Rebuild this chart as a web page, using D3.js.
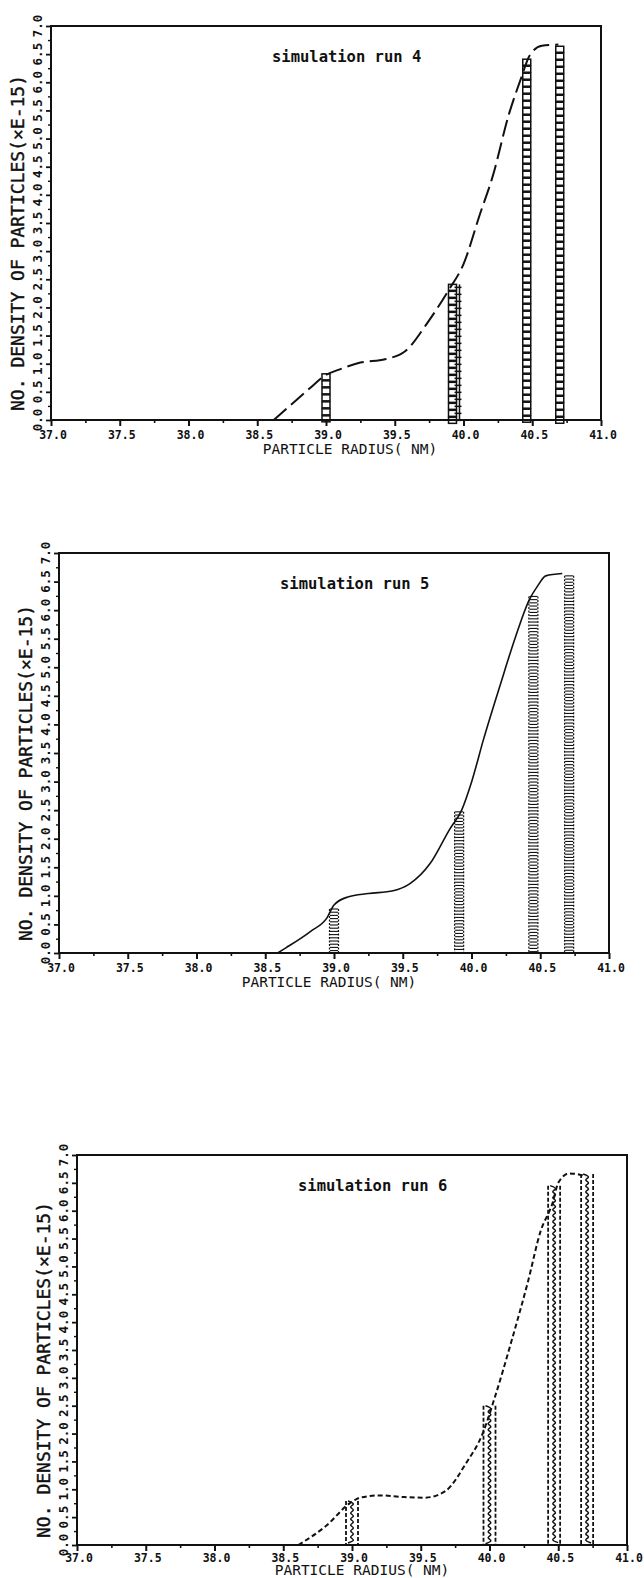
<!DOCTYPE html>
<html>
<head>
<meta charset="utf-8">
<script src="https://cdn.jsdelivr.net/npm/d3@7"></script>
<style>
  html, body { margin: 0; padding: 0; background: #fff; }
  svg { display: block; }
  .tick-label { font-family: "DejaVu Sans Mono", monospace; font-weight: bold; fill: #111; }
  .axis-title { font-family: "DejaVu Sans Mono", monospace; fill: #111; }
</style>
</head>
<body>
<script>
// Axis ticks shared by all three runs
const radiusTicks = [37.0, 37.5, 38.0, 38.5, 39.0, 39.5, 40.0, 40.5, 41.0];
const densityTicks = [0.0, 0.5, 1.0, 1.5, 2.0, 2.5, 3.0, 3.5, 4.0, 4.5, 5.0, 5.5, 6.0, 6.5, 7.0];
const runTitles = ["simulation run 4", "simulation run 5", "simulation run 6"];
const xTitle = "PARTICLE RADIUS( NM)";
const yTitle = "NO. DENSITY OF PARTICLES(\u00d7E-15)";

// Run 4: fitted distribution and size-class bars
const run4Radius  = [38.62, 38.75, 38.88, 39.0, 39.1, 39.25, 39.43, 39.58, 39.73, 39.89, 40.0, 40.12, 40.21, 40.33, 40.42, 40.48, 40.57, 40.69];
const run4Density = [0.0, 0.28, 0.56, 0.80, 0.90, 1.02, 1.08, 1.23, 1.70, 2.30, 2.77, 3.66, 4.31, 5.43, 6.08, 6.47, 6.65, 6.67];
const run4BarRadius  = [39.0, 39.92, 40.46, 40.70];
const run4BarDensity = [0.82, 2.41, 6.41, 6.64];

// Run 5
const run5Radius  = [38.59, 38.65, 38.83, 38.95, 39.0, 39.1, 39.25, 39.43, 39.55, 39.70, 39.84, 39.93, 40.0, 40.09, 40.21, 40.32, 40.42, 40.48, 40.54, 40.66];
const run5Density = [0.0, 0.09, 0.38, 0.62, 0.84, 0.98, 1.04, 1.09, 1.21, 1.57, 2.16, 2.51, 2.99, 3.76, 4.70, 5.53, 6.18, 6.42, 6.60, 6.64];
const run5BarRadius  = [39.0, 39.91, 40.45, 40.71];
const run5BarDensity = [0.77, 2.47, 6.24, 6.60];

// Run 6
const run6Radius  = [38.61, 38.81, 38.99, 39.06, 39.2, 39.38, 39.53, 39.68, 39.83, 39.95, 40.04, 40.16, 40.28, 40.37, 40.46, 40.50, 40.58, 40.65, 40.70];
const run6Density = [0.0, 0.34, 0.76, 0.85, 0.89, 0.86, 0.85, 0.97, 1.47, 2.00, 2.66, 3.66, 4.73, 5.62, 6.15, 6.50, 6.67, 6.65, 6.62];
const run6BarRadius  = [39.0, 40.0, 40.47, 40.71];
const run6BarDensity = [0.79, 2.50, 6.45, 6.66];

const W = 644, H = 1578;
const svg = d3.select("body").append("svg").attr("width", W).attr("height", H);

// Frame of each panel on the page
const panels = [
  { left: 51, right: 601, top: 26,   bottom: 420,  labelGap: 19, titleGap: 34, xTitleShift: 24, radius: run4Radius, density: run4Density, barR: run4BarRadius, barN: run4BarDensity, title: runTitles[0], line: "dash",  bar: "box"  },
  { left: 59, right: 609, top: 553,  bottom: 953,  labelGap: 19, titleGap: 34, xTitleShift: -5, radius: run5Radius, density: run5Density, barR: run5BarRadius, barN: run5BarDensity, title: runTitles[1], line: "solid", bar: "comb" },
  { left: 77, right: 627, top: 1155, bottom: 1545, labelGap: 17, titleGap: 30, xTitleShift: 10, radius: run6Radius, density: run6Density, barR: run6BarRadius, barN: run6BarDensity, title: runTitles[2], line: "short", bar: "wave" }
];

const ink = "#111";
const fmt = d3.format(".1f");

panels.forEach(p => {
  const x = d3.scaleLinear().domain([37, 41]).range([p.left, p.right]);
  const y = d3.scaleLinear().domain([0, 7]).range([p.bottom, p.top]);
  const g = svg.append("g");

  // frame
  g.append("rect")
    .attr("x", p.left).attr("y", p.top)
    .attr("width", p.right - p.left).attr("height", p.bottom - p.top)
    .attr("fill", "none").attr("stroke", ink).attr("stroke-width", 2);

  // x axis: major ticks below, minor ticks at quarter steps
  const xAxis = d3.axisBottom(x).tickValues(radiusTicks).tickSize(6).tickFormat("");
  const gx = g.append("g").attr("transform", `translate(0,${p.bottom})`).call(xAxis);
  gx.select(".domain").remove();
  gx.selectAll("line").attr("stroke", ink).attr("stroke-width", 2);
  const xMinor = d3.axisBottom(x).tickValues(d3.range(37.25, 41, 0.5)).tickSize(3).tickFormat("");
  const gxm = g.append("g").attr("transform", `translate(0,${p.bottom})`).call(xMinor);
  gxm.select(".domain").remove();
  gxm.selectAll("line").attr("stroke", ink).attr("stroke-width", 1.6);
  g.selectAll(".xlab").data(radiusTicks).join("text")
    .attr("class", "tick-label")
    .attr("x", d => x(d) + 2).attr("y", p.bottom + p.labelGap)
    .attr("text-anchor", "middle").attr("font-size", 11.5)
    .text(d => fmt(d));

  // y axis: major ticks outward, minor ticks between
  const yAxis = d3.axisLeft(y).tickValues(densityTicks).tickSize(5).tickFormat("");
  const gy = g.append("g").attr("transform", `translate(${p.left},0)`).call(yAxis);
  gy.select(".domain").remove();
  gy.selectAll("line").attr("stroke", ink).attr("stroke-width", 1.8);
  const yMinor = d3.axisLeft(y).tickValues(d3.range(0.25, 7, 0.5)).tickSize(3).tickFormat("");
  const gym = g.append("g").attr("transform", `translate(${p.left},0)`).call(yMinor);
  gym.select(".domain").remove();
  gym.selectAll("line").attr("stroke", ink).attr("stroke-width", 1.4);
  g.selectAll(".ylab").data(densityTicks).join("text")
    .attr("class", "tick-label")
    .attr("transform", d => `translate(${p.left - 9},${y(d)}) rotate(-90)`)
    .attr("text-anchor", "middle").attr("font-size", 12.5)
    .text(d => fmt(d));

  // axis titles
  g.append("text").attr("class", "axis-title")
    .attr("x", (p.left + p.right) / 2 + p.xTitleShift).attr("y", p.bottom + p.titleGap)
    .attr("text-anchor", "middle").attr("font-size", 14.5)
    .text(xTitle);
  g.append("text").attr("class", "axis-title")
    .attr("transform", `translate(${p.left - 27},${(p.top + p.bottom) / 2 + 20}) rotate(-90)`)
    .attr("text-anchor", "middle").attr("font-size", 18)
    .attr("stroke", ink).attr("stroke-width", 0.4)
    .text(yTitle);

  // run title
  g.append("text").attr("class", "tick-label")
    .attr("x", x(39.15)).attr("y", p.top + 36)
    .attr("text-anchor", "middle").attr("font-size", 15.5)
    .text(p.title);

  // size-class bars drawn as stacked plotter symbols
  const bars = p.barR.map((r, i) => ({ r, n: p.barN[i], i }));
  bars.forEach(b => {
    const cx = x(b.r), yTop = y(b.n), yBot = y(0);
    const bg = g.append("g");
    if (p.bar === "box") {
      const step = 7;
      const rows = d3.range(yTop, yBot - 2, step);
      bg.selectAll("rect").data(rows).join("rect")
        .attr("x", cx - 4).attr("y", d => d).attr("width", 8).attr("height", step - 1)
        .attr("fill", "none").attr("stroke", ink).attr("stroke-width", 1.5);
      if (b.i === 1) {
        // crossed symbols overprinted on the right edge of this class
        bg.selectAll("line.cross").data(rows).join("line")
          .attr("x1", cx + 2).attr("x2", cx + 9).attr("y1", d => d + 3).attr("y2", d => d + 3)
          .attr("stroke", ink).attr("stroke-width", 1.5);
        bg.append("line").attr("x1", cx + 7).attr("x2", cx + 7).attr("y1", yTop).attr("y2", yBot)
          .attr("stroke", ink).attr("stroke-width", 1.5);
      }
    } else if (p.bar === "comb") {
      const step = 3.2;
      const rows = d3.range(yTop, yBot, step);
      bg.selectAll("line").data(rows).join("line")
        .attr("x1", cx - 4).attr("x2", cx + 4).attr("y1", d => d).attr("y2", d => d)
        .attr("stroke", ink).attr("stroke-width", 1.1);
      [-4.5, 4.5].forEach(dx => bg.append("line")
        .attr("x1", cx + dx).attr("x2", cx + dx).attr("y1", yTop).attr("y2", yBot)
        .attr("stroke", ink).attr("stroke-width", 1.2).attr("stroke-dasharray", "2,1.5"));
    } else {
      const step = 6;
      const pts = d3.range(yTop, yBot, step / 2).map((yy, i) => [cx + (i % 2 ? 4 : -4), yy]);
      bg.append("path").attr("d", d3.line().curve(d3.curveBasis)(pts))
        .attr("fill", "none").attr("stroke", ink).attr("stroke-width", 1.5);
      [-6, 6].forEach(dx => bg.append("line")
        .attr("x1", cx + dx).attr("x2", cx + dx).attr("y1", yTop).attr("y2", yBot)
        .attr("stroke", ink).attr("stroke-width", 1.8).attr("stroke-dasharray", "4,2"));
    }
  });

  // fitted curve
  const pts = p.radius.map((r, i) => [x(r), y(p.density[i])]);
  const path = g.append("path")
    .attr("d", d3.line().curve(d3.curveMonotoneX)(pts))
    .attr("fill", "none").attr("stroke", ink)
    .attr("stroke-width", p.line === "solid" ? 1.6 : 2);
  if (p.line === "dash") path.attr("stroke-dasharray", "17,6");
  if (p.line === "short") path.attr("stroke-dasharray", "5,3");
});
</script>
</body>
</html>
